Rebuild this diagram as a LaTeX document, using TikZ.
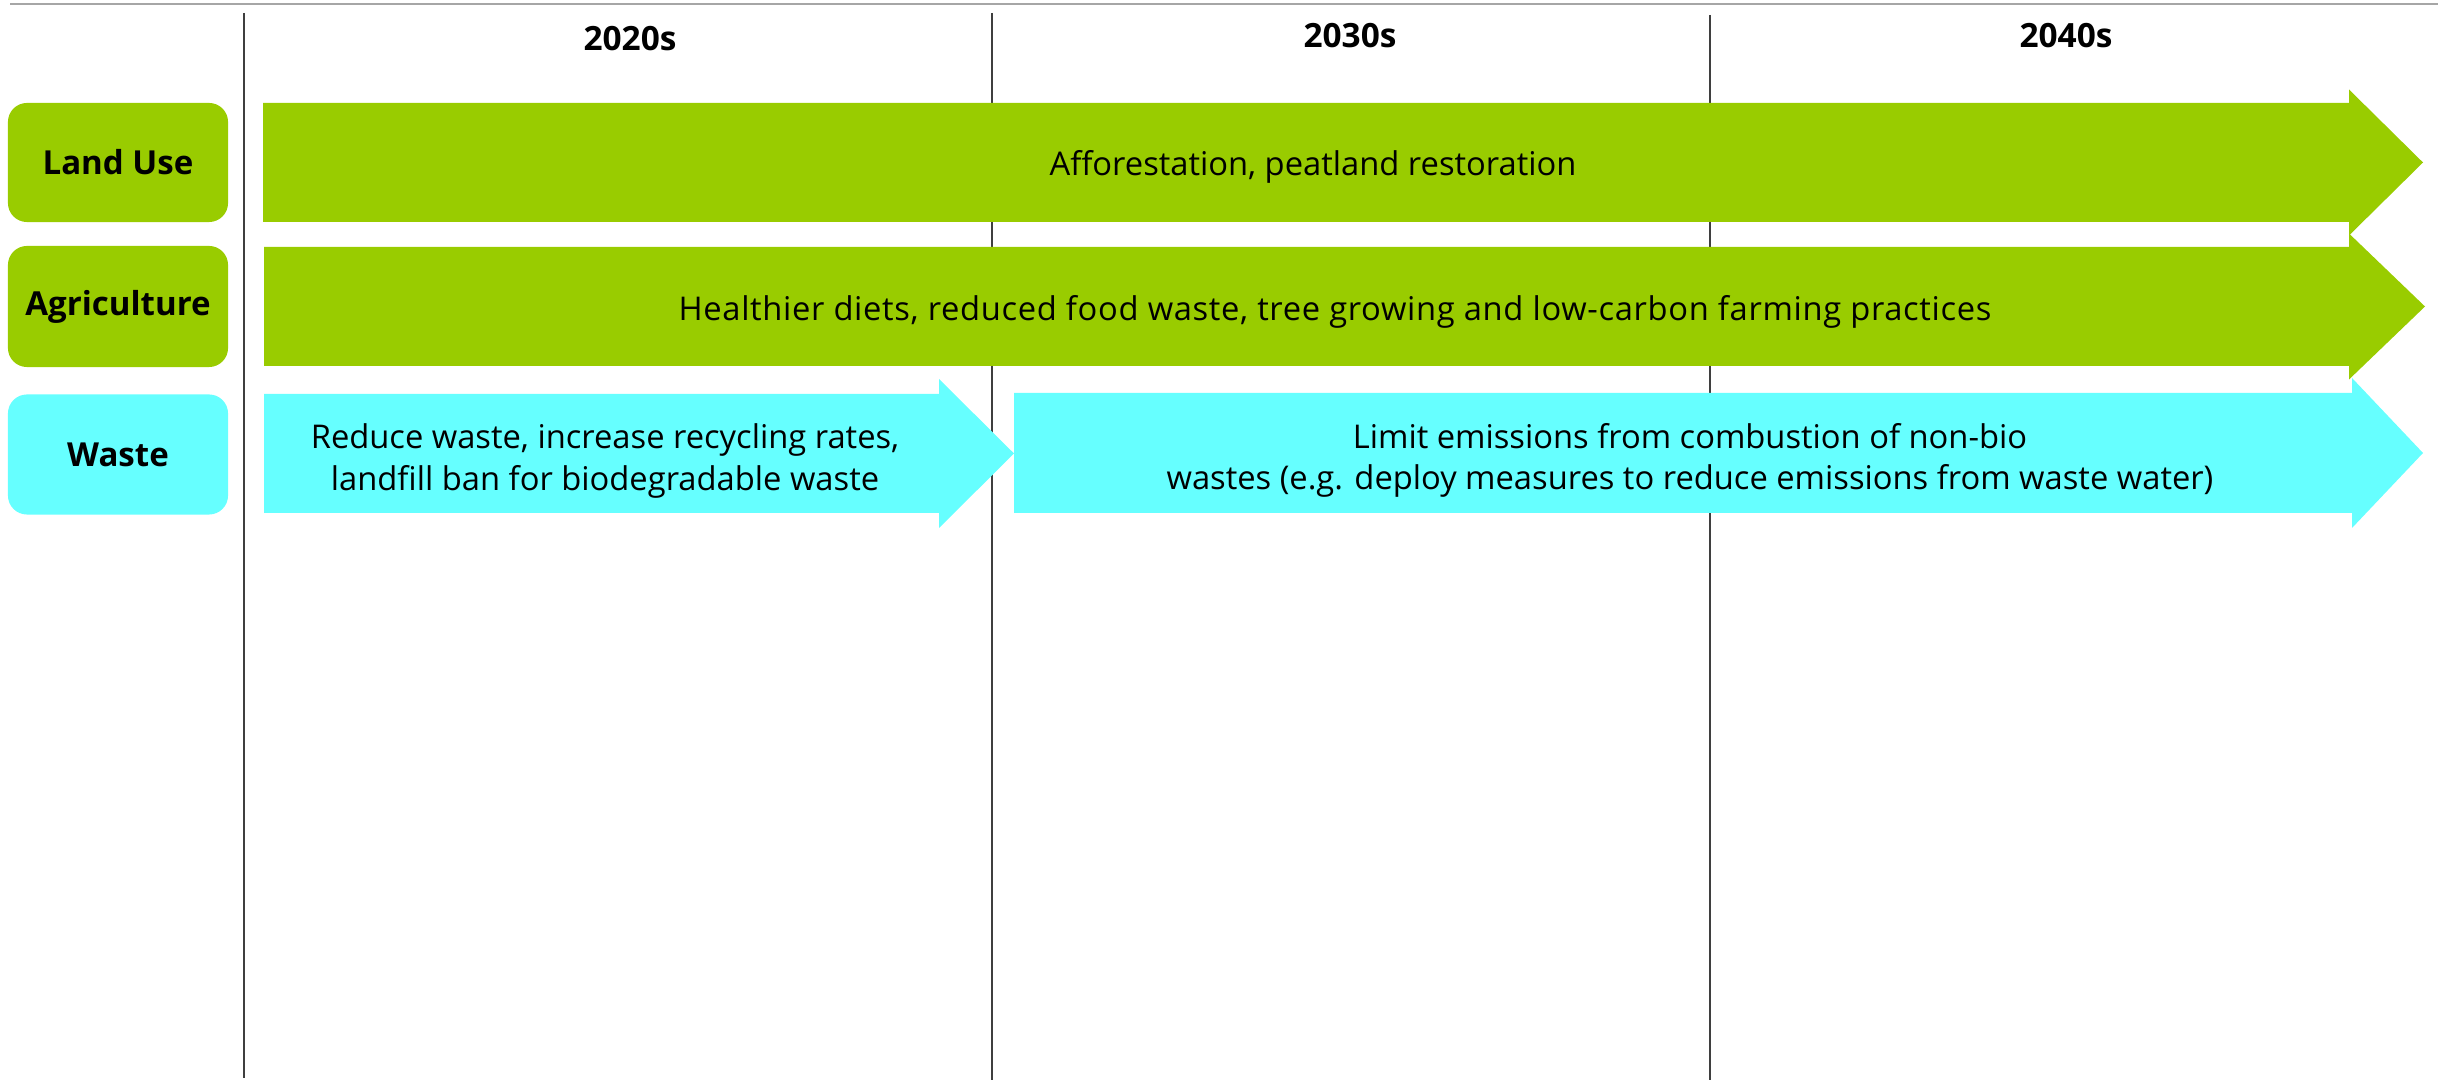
\documentclass[tikz,border=0pt]{standalone}
\usepackage{fontspec}
\setmainfont{Open Sans}
\definecolor{lgreen}{HTML}{99CC00}
\definecolor{lcyan}{HTML}{66FFFF}
\definecolor{topgray}{HTML}{A6A6A6}
\definecolor{vgray}{HTML}{3F3F3F}
\begin{document}
\begin{tikzpicture}[x=0.01cm,y=-0.01cm,
  every node/.style={font=\fontsize{9.3pt}{11.7pt}\selectfont, inner sep=0pt},
  rowlabel/.style={rounded corners=0.19cm, minimum width=2.2cm, minimum height=1.19cm, font=\fontsize{9.4pt}{11.7pt}\selectfont\bfseries},
  year/.style={font=\fontsize{9.5pt}{11.7pt}\selectfont\bfseries},
  arrowtext/.style={align=center},
  divider/.style={draw=vgray, line width=0.45pt}]
\useasboundingbox (0,0) rectangle (2438,1080);
% top rule
\coordinate (t1) at (10,4);
\coordinate (t2) at (2438,4);
\draw[topgray, line width=0.5pt] (t1) -- (t2);
% dividers
\coordinate (d1a) at (244,13);  \coordinate (d1b) at (244,1078);
\coordinate (d2a) at (992,13);  \coordinate (d2b) at (992,1080);
\coordinate (d3a) at (1710,15); \coordinate (d3b) at (1710,1080);
\draw[divider] (d1a) -- (d1b);
\draw[divider] (d2a) -- (d2b);
\draw[divider] (d3a) -- (d3b);
% year headers
\node[year] (y1) at (630,39) {2020s};
\node[year] (y2) at (1350,36) {2030s};
\node[year] (y3) at (2066,36) {2040s};
% row labels
\node[rowlabel, fill=lgreen] (lu) at (118,162.5) {Land Use};
\node[rowlabel, fill=lgreen, minimum height=1.21cm] (ag) at (118,306.5) {Agriculture};
\node[rowlabel, fill=lcyan, minimum height=1.2cm] (wa) at (118,454.5) {Waste};
% arrows
\fill[lgreen] (263,103) -- (2349,103) -- (2349,89.5) -- (2423,162.5) -- (2349,235.5) -- (2349,222) -- (263,222) -- cycle;
\fill[lgreen] (264,247) -- (2349,247) -- (2349,233.5) -- (2425,306.5) -- (2349,379.5) -- (2349,366) -- (264,366) -- cycle;
\fill[lcyan] (264,394) -- (939,394) -- (939,379) -- (1014,453.5) -- (939,528) -- (939,513) -- (264,513) -- cycle;
\fill[lcyan] (1014,393) -- (2352,393) -- (2352,378) -- (2423,453) -- (2352,528) -- (2352,513) -- (1014,513) -- cycle;
% arrow texts
\node[arrowtext] (a1) at (1313,167) {Afforestation, peatland restoration};
\node[arrowtext, font=\fontsize{9.3pt}{11.7pt}\selectfont\addfontfeatures{LetterSpace=2}] (a2) at (1335,312) {Healthier diets, reduced food waste, tree growing and low-carbon farming practices};
\node[arrowtext] (a3) at (605,461) {Reduce waste, increase recycling rates,\\landfill ban for biodegradable waste};
\node[arrowtext] (a4) at (1690,460) {Limit emissions from combustion of non-bio\\wastes (e.g. deploy measures to reduce emissions from waste water)};
\end{tikzpicture}
\end{document}
